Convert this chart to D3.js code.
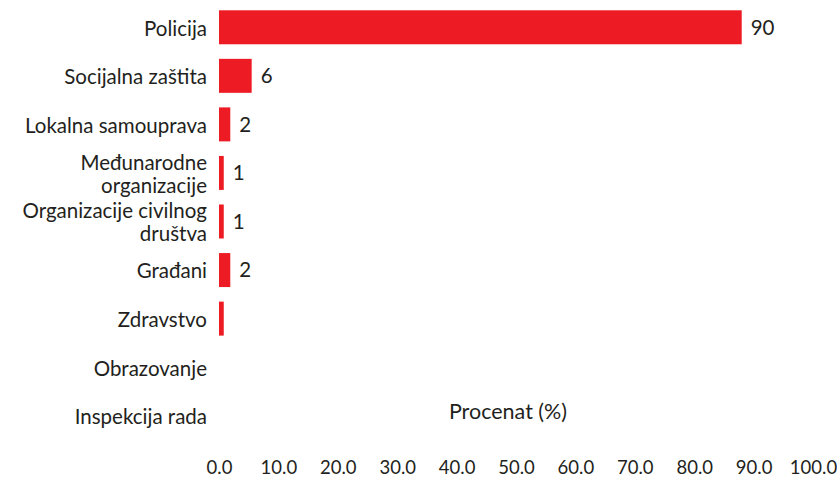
<!DOCTYPE html>
<html>
<head>
<meta charset="utf-8">
<script src="https://cdn.jsdelivr.net/npm/d3@7"></script>
<style>
  body { margin: 0; background: #fff; }
  text { font-family: Lato, "Noto Sans", sans-serif; fill: #231f20; }
</style>
</head>
<body>
<div id="chart"></div>
<script>
// categories and values (percent)
const categories = ["Policija", "Socijalna zaštita", "Lokalna samouprava", "Međunarodne organizacije",
  "Organizacije civilnog društva", "Građani", "Zdravstvo", "Obrazovanje", "Inspekcija rada"];
const values = [88.0, 5.5, 1.9, 0.8, 0.8, 1.9, 0.8, 0, 0];
const valueLabels = ["90", "6", "2", "1", "1", "2", "", "", ""];
const xTicks = [0, 10, 20, 30, 40, 50, 60, 70, 80, 90, 100];
const axisTitle = "Procenat (%)";

const width = 837, height = 482;
const margin = { top: 3, right: 24, bottom: 42, left: 219 };

const svg = d3.select("#chart")
  .append("svg")
  .attr("width", width)
  .attr("height", height);

const x = d3.scaleLinear()
  .domain([0, 100])
  .range([margin.left, margin.left + 594]);

const y = d3.scaleBand()
  .domain(categories)
  .range([margin.top, height - margin.bottom])
  .paddingInner(0.3)
  .paddingOuter(0.15);

// bars
svg.selectAll("rect.bar")
  .data(categories)
  .enter()
  .append("rect")
  .attr("class", "bar")
  .attr("x", x(0))
  .attr("y", d => y(d))
  .attr("width", (d, i) => x(values[i]) - x(0))
  .attr("height", y.bandwidth())
  .attr("fill", "#ed1c24");

// value labels
svg.selectAll("text.val")
  .data(categories)
  .enter()
  .append("text")
  .attr("class", "val")
  .attr("x", (d, i) => x(values[i]) + 9)
  .attr("y", d => y(d) + y.bandwidth() / 2)
  .attr("dy", "0.36em")
  .attr("font-size", 20.5)
  .text((d, i) => valueLabels[i]);

// category labels, wrapped to fit left of the bars
const maxW = 205, lineH = 23;
categories.forEach(function (c) {
  const t = svg.append("text")
    .attr("text-anchor", "end")
    .attr("font-size", 20.5);
  const words = c.split(" ");
  let lines = [], line = [];
  words.forEach(function (w) {
    line.push(w);
    t.text(line.join(" "));
    if (t.node().getComputedTextLength() > maxW && line.length > 1) {
      line.pop();
      lines.push(line.join(" "));
      line = [w];
    }
  });
  lines.push(line.join(" "));
  t.text(null);
  const cy = y(c) + y.bandwidth() / 2 + 1;
  lines.forEach(function (l, i) {
    t.append("tspan")
      .attr("x", 207)
      .attr("y", cy + (i - (lines.length - 1) / 2) * lineH)
      .attr("dy", "0.36em")
      .text(l);
  });
});

// x axis (labels only)
const xAxis = svg.append("g")
  .attr("transform", `translate(0, ${height - 15})`)
  .call(d3.axisBottom(x).tickValues(xTicks).tickFormat(d3.format(".1f")).tickSize(0));
xAxis.select(".domain").remove();
xAxis.selectAll("text")
  .attr("font-size", 18.5)
  .attr("font-family", "Lato, 'Noto Sans', sans-serif")
  .attr("fill", "#231f20")
  .attr("dy", "0.36em")
  .attr("y", 0);

// axis title
svg.append("text")
  .attr("x", 508)
  .attr("y", 411)
  .attr("dy", "0.36em")
  .attr("text-anchor", "middle")
  .attr("font-size", 21.5)
  .text(axisTitle);
</script>
</body>
</html>
